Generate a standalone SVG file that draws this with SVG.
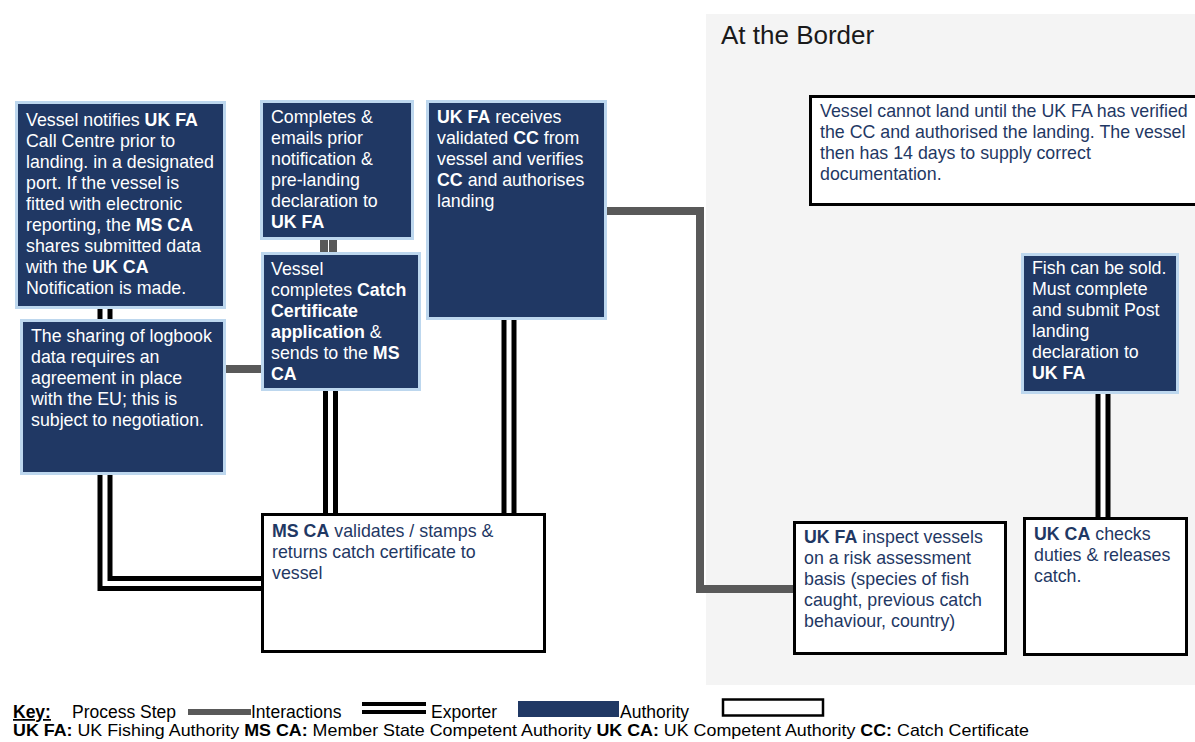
<svg xmlns="http://www.w3.org/2000/svg" width="1195" height="742" viewBox="0 0 1195 742">
<style>
text{font-family:"Liberation Sans",Arial,sans-serif;font-size:17.8px}
.w{fill:#ffffff}
.n{fill:#1f3864}
.b{font-weight:bold}
.auth{fill:#203864;stroke:#bdd7ee;stroke-width:3}
.proc{fill:#ffffff;stroke:#000000;stroke-width:3}
.ex-o{fill:none;stroke:#000000;stroke-width:15;stroke-linejoin:miter}
.ex-i{fill:none;stroke:#ffffff;stroke-width:5;stroke-linejoin:miter}
.ia{fill:none;stroke:#595959;stroke-width:8;stroke-linejoin:miter}
.key{font-size:17.5px;fill:#000000}
</style>
<rect x="0" y="0" width="1195" height="742" fill="#ffffff"/>
<rect id="border-panel" x="706" y="14" width="489" height="671" fill="#f4f4f4"/>
<text x="721" y="44" style="font-size:26px" fill="#1a1a1a">At the Border</text>

<g id="connectors">
  <path class="ex-o" d="M105 306 V321"/>
  <path class="ex-i" d="M105 306 V321"/>
  <path class="ex-o" d="M105 473 V583.5 H263"/>
  <path class="ex-i" d="M105 473 V583.5 H263"/>
  <path class="ex-o" d="M330.5 389 V515"/>
  <path class="ex-i" d="M330.5 389 V515"/>
  <path class="ex-o" d="M509 318 V515"/>
  <path class="ex-i" d="M509 318 V515"/>
  <path class="ex-o" d="M1103 392 V519"/>
  <path class="ex-i" d="M1103 392 V519"/>
  <rect x="320" y="240" width="8" height="12" fill="#595959"/>
  <rect x="329" y="240" width="8" height="12" fill="#595959"/>
  <path class="ia" d="M225 369 H262"/>
  <path class="ia" d="M606 211 H700 V589 H794"/>
</g>

<g id="n1">
  <rect class="auth" x="16.5" y="102.5" width="208" height="205"/>
  <text class="w"><tspan x="26" y="126">Vessel notifies <tspan class="b">UK FA</tspan></tspan><tspan x="26" y="147">Call Centre prior to</tspan><tspan x="26" y="168">landing. in a designated</tspan><tspan x="26" y="189">port. If the vessel is</tspan><tspan x="26" y="210">fitted with electronic</tspan><tspan x="26" y="231">reporting, the <tspan class="b">MS CA</tspan></tspan><tspan x="26" y="252">shares submitted data</tspan><tspan x="26" y="273">with the <tspan class="b">UK CA</tspan></tspan><tspan x="26" y="294">Notification is made.</tspan></text>
</g>

<g id="n2">
  <rect class="auth" x="21.5" y="320.5" width="203" height="153"/>
  <text class="w"><tspan x="31" y="342">The sharing of logbook</tspan><tspan x="31" y="363">data requires an</tspan><tspan x="31" y="384">agreement in place</tspan><tspan x="31" y="405">with the EU; this is</tspan><tspan x="31" y="426">subject to negotiation.</tspan></text>
</g>

<g id="n3">
  <rect class="auth" x="261.5" y="101.5" width="151" height="137"/>
  <text class="w"><tspan x="271" y="123">Completes &amp;</tspan><tspan x="271" y="144">emails prior</tspan><tspan x="271" y="165">notification &amp;</tspan><tspan x="271" y="186">pre-landing</tspan><tspan x="271" y="207">declaration to</tspan><tspan x="271" y="228" class="b">UK FA</tspan></text>
</g>

<g id="n4">
  <rect class="auth" x="262.5" y="253.5" width="157" height="136"/>
  <text class="w"><tspan x="271" y="275">Vessel</tspan><tspan x="271" y="296">completes <tspan class="b">Catch</tspan></tspan><tspan x="271" y="317" class="b">Certificate</tspan><tspan x="271" y="338"><tspan class="b">application</tspan> &amp;</tspan><tspan x="271" y="359">sends to the <tspan class="b">MS</tspan></tspan><tspan x="271" y="380" class="b">CA</tspan></text>
</g>

<g id="n5">
  <rect class="auth" x="427.5" y="101.5" width="178" height="217"/>
  <text class="w"><tspan x="437" y="123"><tspan class="b">UK FA</tspan> receives</tspan><tspan x="437" y="144">validated <tspan class="b">CC</tspan> from</tspan><tspan x="437" y="165">vessel and verifies</tspan><tspan x="437" y="186"><tspan class="b">CC</tspan> and authorises</tspan><tspan x="437" y="207">landing</tspan></text>
</g>

<g id="n6">
  <rect class="proc" x="262.5" y="514.5" width="282" height="137"/>
  <text class="n"><tspan x="272" y="537"><tspan class="b">MS CA</tspan> validates / stamps &amp;</tspan><tspan x="272" y="558">returns catch certificate to</tspan><tspan x="272" y="579">vessel</tspan></text>
</g>

<g id="n7">
  <rect class="proc" x="810.5" y="96.5" width="400" height="108"/>
  <text class="n"><tspan x="820" y="117">Vessel cannot land until the UK FA has verified</tspan><tspan x="820" y="138">the CC and authorised the landing. The vessel</tspan><tspan x="820" y="159">then has 14 days to supply correct</tspan><tspan x="820" y="180">documentation.</tspan></text>
</g>

<g id="n8">
  <rect class="auth" x="1022.5" y="254.5" width="155" height="138"/>
  <text class="w"><tspan x="1032" y="274">Fish can be sold.</tspan><tspan x="1032" y="295">Must complete</tspan><tspan x="1032" y="316">and submit Post</tspan><tspan x="1032" y="337">landing</tspan><tspan x="1032" y="358">declaration to</tspan><tspan x="1032" y="379" class="b">UK FA</tspan></text>
</g>

<g id="n9">
  <rect class="proc" x="794.5" y="522.5" width="211" height="131"/>
  <text class="n"><tspan x="804" y="543"><tspan class="b">UK FA</tspan> inspect vessels</tspan><tspan x="804" y="564">on a risk assessment</tspan><tspan x="804" y="585">basis (species of fish</tspan><tspan x="804" y="606">caught, previous catch</tspan><tspan x="804" y="627">behaviour, country)</tspan></text>
</g>

<g id="n10">
  <rect class="proc" x="1024.5" y="518.5" width="162" height="136"/>
  <text class="n"><tspan x="1034" y="540"><tspan class="b">UK CA</tspan> checks</tspan><tspan x="1034" y="561">duties &amp; releases</tspan><tspan x="1034" y="582">catch.</tspan></text>
</g>

<g id="key">
  <text class="key b" x="13" y="718" text-decoration="underline">Key:</text>
  <text class="key" x="72" y="718">Process Step</text>
  <rect x="188" y="709" width="63" height="6" fill="#595959"/>
  <text class="key" x="251" y="718">Interactions</text>
  <rect x="362" y="702" width="64" height="4" fill="#000000"/>
  <rect x="362" y="710" width="64" height="4" fill="#000000"/>
  <text class="key" x="431" y="718">Exporter</text>
  <rect x="518" y="701" width="101" height="16" fill="#203864"/>
  <text class="key" x="620" y="718">Authority</text>
  <rect x="723" y="699.5" width="100" height="16" fill="#ffffff" stroke="#000000" stroke-width="2.5"/>
  <text class="key" x="13" y="736" style="font-size:17px" textLength="1016" lengthAdjust="spacingAndGlyphs"><tspan class="b">UK FA:</tspan> UK Fishing Authority <tspan class="b">MS CA:</tspan> Member State Competent Authority  <tspan class="b">UK CA:</tspan> UK Competent Authority <tspan class="b">CC:</tspan> Catch Certificate</text>
</g>
</svg>
